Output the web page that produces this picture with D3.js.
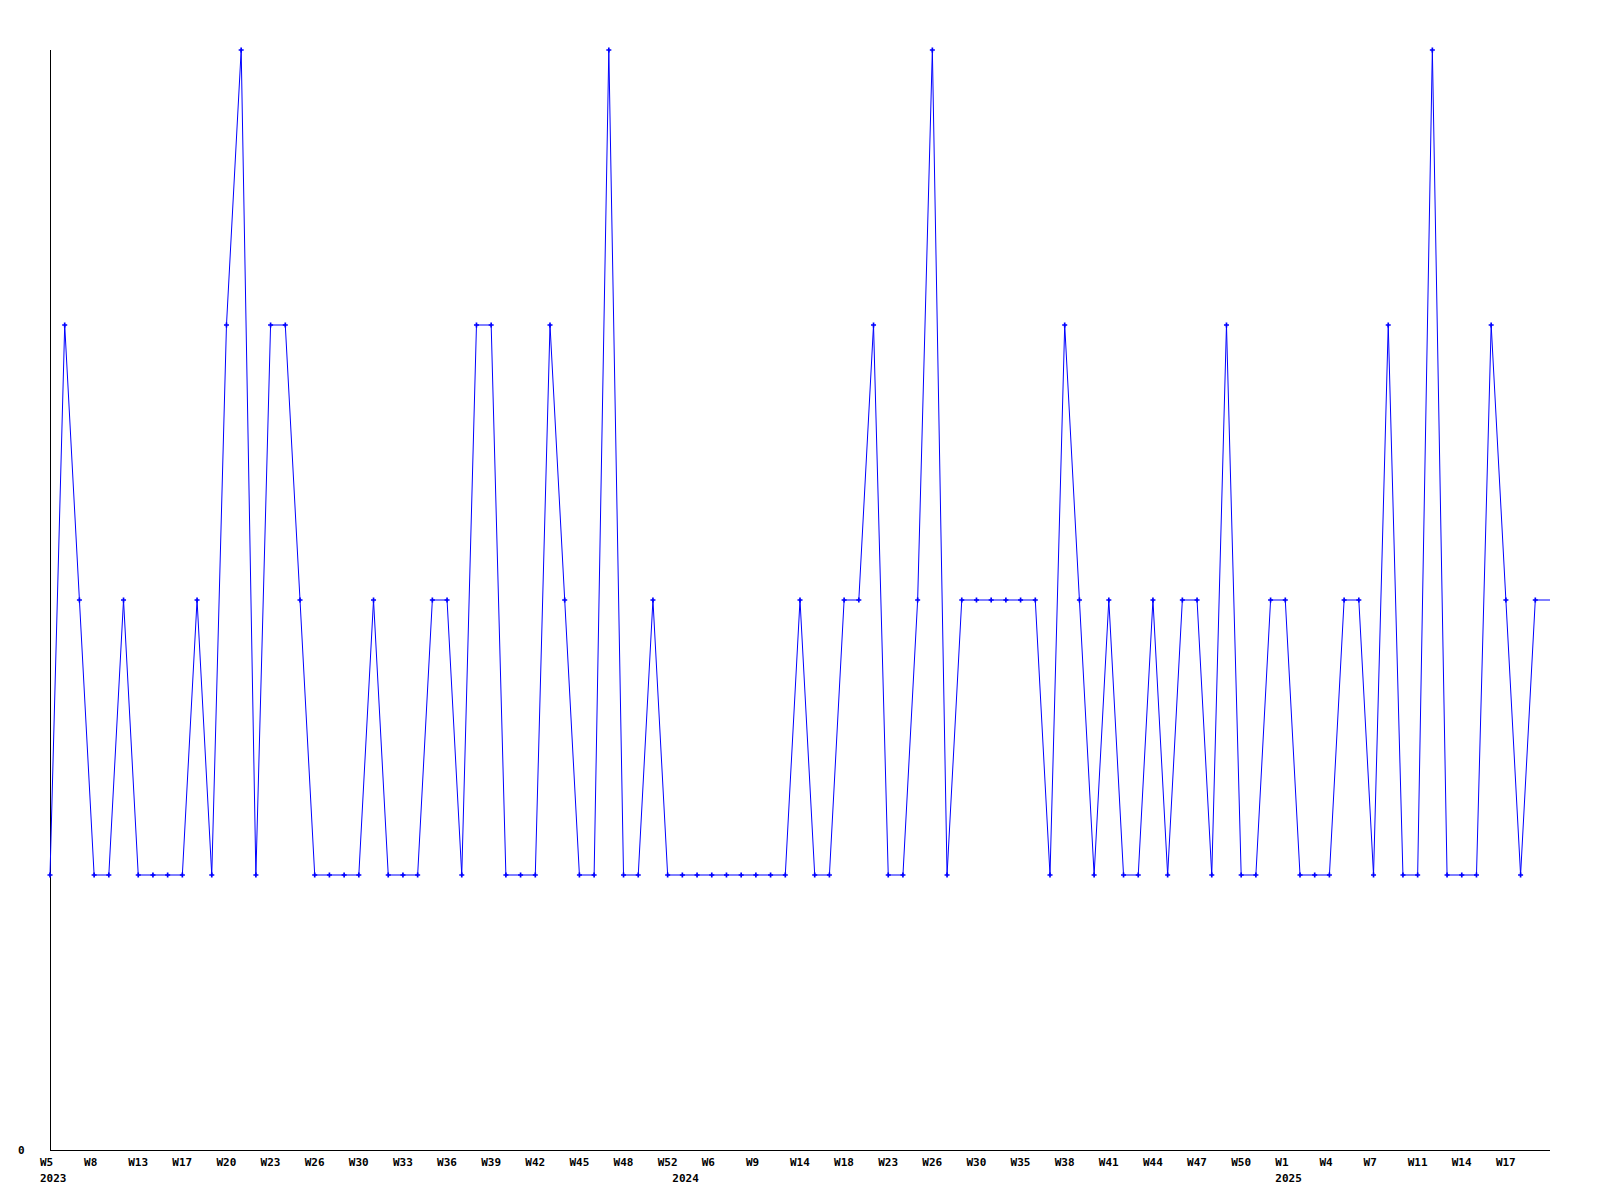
<!DOCTYPE html>
<html>
<head>
<meta charset="utf-8">
<script src="https://cdn.jsdelivr.net/npm/d3@7"></script>
<style>
  html, body { margin: 0; padding: 0; background: #ffffff; }
  svg { display: block; }
  text { font-family: "DejaVu Sans Mono", "Liberation Mono", monospace; font-weight: bold; font-size: 11px; fill: #000; }
</style>
</head>
<body>
<svg id="chart" width="1600" height="1200"></svg>
<script>
// ISO week categories (one per data point)
const weeks = [
  "W5","W6","W7","W8","W10","W11","W13","W15","W16","W17","W18","W19","W20","W21","W22",
  "W23","W24","W25","W26","W27","W29","W30","W31","W32","W33","W34","W35","W36","W37","W38",
  "W39","W40","W41","W42","W43","W44","W45","W46","W47","W48","W49","W51","W52",
  "W1","W3","W6","W7","W8","W9","W11","W12","W14","W15","W17","W18","W20","W21","W23",
  "W24","W25","W26","W27","W29","W30","W32","W33","W35","W36","W37","W38","W39","W40","W41",
  "W42","W43","W44","W45","W46","W47","W48","W49","W50","W51","W52",
  "W1","W2","W3","W4","W5","W6","W7","W8","W10","W11","W12","W13","W14","W15","W16","W17","W18","W19"
];
// Year label placed at first week of each year (category index)
const yearLabels = ["2023","2024","2025"];
const yearStarts = [0, 43, 84];

// Series values
const values = [
  1,3,2,1,1,2,1,1,1,1,2,1,3,4,1,
  3,3,2,1,1,1,1,2,1,1,1,2,2,1,3,
  3,1,1,1,3,2,1,1,4,1,1,2,1,
  1,1,1,1,1,1,1,1,2,1,1,2,2,3,1,
  1,2,4,1,2,2,2,2,2,2,1,3,2,1,2,
  1,1,2,1,2,2,1,3,1,1,2,
  2,1,1,1,2,2,1,3,1,1,4,1,1,1,3,2,1,2
];

// Y tick labels
const yTicks = [0];

const svg = d3.select("#chart");
const x = d3.scaleLinear().domain([0, weeks.length]).range([50, 1550]);
const y = d3.scaleLinear().domain([0, 4]).range([1150, 50]);

// Axes lines
svg.append("line").attr("x1", x(0)).attr("x2", x(0)).attr("y1", y(4)).attr("y2", y(0))
  .attr("stroke", "#000").attr("stroke-width", 1).attr("shape-rendering", "crispEdges");
svg.append("line").attr("x1", x(0)).attr("x2", x(weeks.length)).attr("y1", y(0)).attr("y2", y(0))
  .attr("stroke", "#000").attr("stroke-width", 1).attr("shape-rendering", "crispEdges");

// X tick labels (every 3rd category)
const tickIdx = d3.range(0, weeks.length, 3);
svg.append("g").selectAll("text").data(tickIdx).join("text")
  .attr("x", d => x(d) - 10)
  .attr("y", y(0) + 16)
  .attr("text-anchor", "start")
  .text(d => weeks[d]);

// Year labels
svg.append("g").selectAll("text").data(yearStarts).join("text")
  .attr("x", d => x(d) - 10)
  .attr("y", y(0) + 32)
  .attr("text-anchor", "start")
  .text((d, i) => yearLabels[i]);

// Y tick labels
svg.append("g").selectAll("text").data(yTicks).join("text")
  .attr("x", 18)
  .attr("y", d => y(d) + 4)
  .attr("text-anchor", "start")
  .text(d => d);

// Line (last value extended to the right edge of the axis)
const pts = values.map((v, i) => [i, v]);
pts.push([weeks.length, values[values.length - 1]]);
const line = d3.line().x(d => x(d[0])).y(d => y(d[1]));
svg.append("path").datum(pts)
  .attr("d", line)
  .attr("fill", "none")
  .attr("stroke", "#0000ff")
  .attr("stroke-width", 1);

// Point markers
svg.append("g").selectAll("path").data(values).join("path")
  .attr("transform", (d, i) => `translate(${x(i)},${y(d)})`)
  .attr("d", d3.symbol(d3.symbolCross).size(14))
  .attr("fill", "#0000ff");
</script>
</body>
</html>
